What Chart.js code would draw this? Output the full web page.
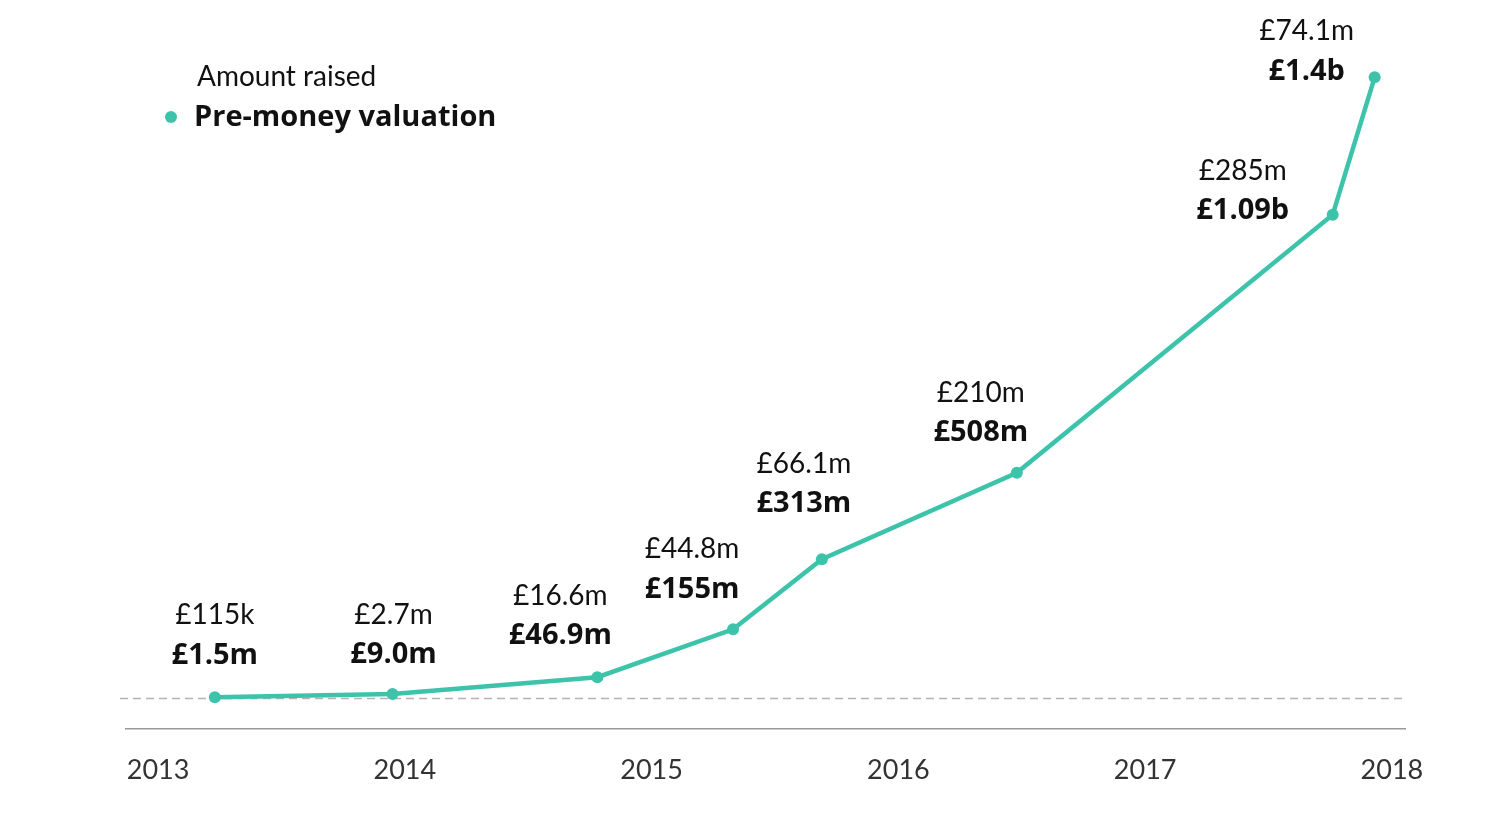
<!DOCTYPE html>
<html>
<head>
<meta charset="utf-8">
<title>Funding rounds</title>
<script src="https://cdn.jsdelivr.net/npm/chart.js@4.4.1/dist/chart.umd.min.js"></script>
<style>
  html, body { margin: 0; padding: 0; background: #fff; }
  #wrap { width: 1500px; height: 818px; position: relative; }
</style>
</head>
<body>
<div id="wrap"><canvas id="chart"></canvas></div>
<script>
// funding rounds, x as decimal years
const roundDates = [2013.23, 2013.95, 2014.78, 2015.33, 2015.69, 2016.48, 2017.76, 2017.93];
// pre-money valuation in £m
const valuations = [1.5, 9.0, 46.9, 155, 313, 508, 1090, 1400];
const amountLabels = ['£115k', '£2.7m', '£16.6m', '£44.8m', '£66.1m', '£210m', '£285m', '£74.1m'];
const valuationLabels = ['£1.5m', '£9.0m', '£46.9m', '£155m', '£313m', '£508m', '£1.09b', '£1.4b'];
const yearTicks = [2013, 2014, 2015, 2016, 2017, 2018];

const TEAL = '#3cc3aa';
const FONT = 'Lato, "Source Sans Pro", sans-serif';
const BOLD = 'bold 29px "Open Sans", Lato, sans-serif';

// label placement relative to each point: dx, dy of the bold line
const labelShift = [[0, -44], [1, -41], [-37, -43], [-41, -42], [-18, -57], [-36, -42], [-90, -6], [-68, -8]];

const zeroLine = {
  id: 'zeroLine',
  beforeDatasetsDraw(chart) {
    const { ctx, chartArea, scales } = chart;
    const y = Math.round(scales.y.getPixelForValue(0)) + 0.5;
    ctx.save();
    ctx.strokeStyle = '#b3b3b3';
    ctx.lineWidth = 1.5;
    ctx.setLineDash([8, 5]);
    ctx.beginPath();
    ctx.moveTo(chartArea.left - 6, y);
    ctx.lineTo(chartArea.right, y);
    ctx.stroke();
    ctx.restore();
  }
};

const pointLabels = {
  id: 'pointLabels',
  afterDatasetsDraw(chart) {
    const { ctx } = chart;
    const pts = chart.getDatasetMeta(0).data;
    ctx.save();
    ctx.textAlign = 'center';
    ctx.textBaseline = 'middle';
    ctx.fillStyle = '#111';
    pts.forEach((p, i) => {
      const [dx, dy] = labelShift[i];
      ctx.font = '28px ' + FONT;
      ctx.fillText(amountLabels[i], p.x + dx, p.y + dy - 38);
      ctx.font = BOLD;
      ctx.fillText(valuationLabels[i], p.x + dx, p.y + dy + 2);
    });
    ctx.restore();
  }
};

const keyBox = {
  id: 'keyBox',
  afterDraw(chart) {
    const { ctx } = chart;
    ctx.save();
    ctx.textAlign = 'left';
    ctx.textBaseline = 'middle';
    ctx.fillStyle = '#111';
    ctx.font = '28px ' + FONT;
    ctx.fillText('Amount raised', 197, 77);
    ctx.font = BOLD;
    ctx.fillText('Pre-money valuation', 194, 118);
    ctx.fillStyle = TEAL;
    ctx.beginPath();
    ctx.arc(171, 117, 6, 0, Math.PI * 2);
    ctx.fill();
    ctx.restore();
  }
};

const chart = new Chart(document.getElementById('chart'), {
  type: 'line',
  data: {
    datasets: [{
      label: 'Pre-money valuation',
      data: roundDates.map((d, i) => ({ x: d, y: valuations[i] })),
      borderColor: TEAL,
      backgroundColor: TEAL,
      borderWidth: 4.5,
      pointRadius: 6,
      pointBorderWidth: 0,
      tension: 0
    }]
  },
  options: {
    responsive: true,
    maintainAspectRatio: false,
    animation: false,
    layout: { padding: { left: 126, right: 95, top: 33, bottom: 0 } },
    scales: {
      x: {
        type: 'linear',
        min: 2012.87,
        max: 2018.053,
        afterBuildTicks: (s) => { s.ticks = yearTicks.map((v) => ({ value: v })); },
        afterFit: (s) => { s.height = 89; },
        ticks: {
          callback: (v) => String(v),
          color: '#333',
          font: { family: FONT, size: 27 },
          padding: 25,
          maxRotation: 0,
          autoSkip: false
        },
        grid: { display: false, drawTicks: false },
        border: { display: true, color: '#999', width: 1.5 }
      },
      y: { display: false, min: -70, max: 1500 }
    },
    plugins: { legend: { display: false }, tooltip: { enabled: false } }
  },
  plugins: [zeroLine, pointLabels, keyBox]
});
</script>
</body>
</html>
